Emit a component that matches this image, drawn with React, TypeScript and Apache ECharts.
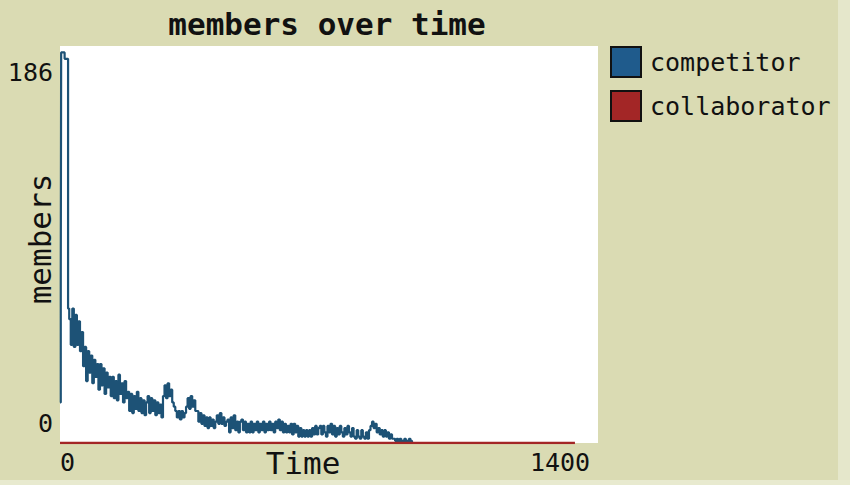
import React, { useEffect, useRef } from "react";
import * as echarts from "echarts";

const TITLE = "members over time";
const X_NAME = "Time";
const Y_NAME = "members";
const SERIES_NAMES = ["competitor", "collaborator"];
const X_RANGE = [0, 1400];
const Y_RANGE = [0, 186];

// [tick, members]
const COMPETITOR: [number, number][] = [
  [0, 19], [2, 80], [3, 183], [12, 180], [21, 63],
  [24, 58], [28, 46], [32, 63], [36, 45], [40, 60], [44, 46], [48, 57], [52, 43], [56, 52],
  [60, 36], [64, 45], [68, 29], [72, 43], [76, 33], [80, 41], [84, 28], [88, 39], [92, 31], [96, 37],
  [100, 25], [104, 37], [108, 27], [112, 35], [116, 23], [120, 33], [124, 26], [128, 31], [132, 22],
  [136, 31], [140, 21], [144, 29], [148, 20], [152, 32], [156, 23], [160, 28], [164, 19], [168, 29], [172, 21],
  [176, 24], [180, 15], [184, 23], [188, 14], [192, 22], [196, 16], [200, 24], [204, 15], [208, 21], [212, 14], [216, 20], [220, 13], [224, 19],
  [228, 22], [232, 14], [236, 21], [240, 15], [244, 20], [248, 13], [252, 19], [256, 14], [260, 18], [264, 12],
  [268, 22], [272, 27], [276, 21], [280, 28], [284, 22], [288, 25], [292, 19], [296, 17],
  [300, 15], [304, 12], [308, 15], [312, 11], [316, 15], [320, 12], [324, 14], [328, 17],
  [332, 21], [336, 16], [340, 22], [344, 17], [348, 20], [352, 15],
  [356, 15], [360, 10], [364, 14], [368, 9], [372, 13], [376, 8], [380, 12], [384, 7], [388, 12], [392, 8], [396, 11], [400, 7], [404, 10],
  [408, 13], [412, 9], [416, 14], [420, 9], [424, 12], [428, 8], [432, 10],
  [436, 11], [440, 5], [444, 12], [448, 7], [452, 13], [456, 6], [460, 10],
  [464, 5], [468, 10], [472, 11], [476, 6], [480, 10], [484, 5], [488, 9], [492, 5],
  [496, 10], [500, 5], [504, 9], [508, 6], [512, 10], [516, 5], [520, 9], [524, 6], [528, 10], [532, 5], [536, 9], [540, 6],
  [544, 10], [548, 6], [552, 9], [556, 5], [560, 10], [564, 7], [568, 11], [572, 6], [576, 10], [580, 5], [584, 9], [588, 5], [592, 8], [596, 5],
  [600, 9], [604, 4], [608, 9], [612, 5], [616, 8], [620, 3], [624, 7], [628, 3], [632, 6], [636, 3], [640, 6], [644, 3], [648, 6],
  [652, 3], [656, 7], [660, 4], [664, 8], [668, 4], [672, 7], [676, 8], [680, 4], [684, 8], [688, 5], [692, 3], [696, 8],
  [700, 5], [704, 9], [708, 4], [712, 8], [716, 3], [720, 7], [724, 4], [728, 8], [732, 5], [736, 3], [740, 7], [744, 4],
  [748, 8], [752, 5], [756, 3], [760, 7], [764, 3], [768, 2], [772, 6], [776, 3], [780, 2], [784, 6], [788, 3], [792, 2],
  [796, 5], [800, 2], [804, 6],
  [808, 8], [812, 10], [816, 7], [820, 9], [824, 5], [828, 7], [832, 4], [836, 6],
  [840, 3], [844, 6], [848, 3], [852, 5], [856, 2], [860, 4], [864, 2],
  [868, 2], [872, 1], [876, 2], [880, 1], [884, 2], [888, 1], [892, 1], [896, 2], [900, 1], [904, 1], [908, 2], [912, 1], [916, 0], [920, 0],
];

const COLLABORATOR: [number, number][] = [
  [0, 0],
  [1340, 0],
];

const BG = "#dadbb3";
const BLUE_LINE = "#1d5276";
const BLUE_KEY = "#1f5b8c";
const RED = "#a32626";
const FONT = "DejaVu Sans Mono";

export default function App() {
  const ref = useRef<HTMLDivElement>(null);

  useEffect(() => {
    if (!ref.current) return;
    const chart = echarts.init(ref.current, null, { renderer: "svg" });
    chart.setOption({
      animation: false,
      backgroundColor: BG,
      grid: {
        left: 60,
        top: 46,
        right: 252,
        bottom: 42,
        show: true,
        backgroundColor: "#ffffff",
        borderWidth: 0,
      },
      legend: {
        orient: "vertical",
        left: 610,
        top: 46,
        padding: 0,
        itemWidth: 30,
        itemHeight: 30,
        itemGap: 12,
        icon: "rect",
        selectedMode: false,
        textStyle: { fontFamily: FONT, fontSize: 25, color: "#111", padding: [0, 0, 0, 4] },
        data: [
          { name: SERIES_NAMES[0], itemStyle: { color: BLUE_KEY, borderColor: "#111", borderWidth: 2 } },
          { name: SERIES_NAMES[1], itemStyle: { color: RED, borderColor: "#111", borderWidth: 2 } },
        ],
      },
      xAxis: {
        type: "value",
        min: X_RANGE[0],
        max: X_RANGE[1],
        interval: X_RANGE[1],
        axisLine: { show: false },
        axisTick: { show: false },
        splitLine: { show: false },
        axisLabel: {
          margin: 7,
          fontFamily: FONT,
          fontSize: 25,
          color: "#111",
          formatter: (v: number) => (v === X_RANGE[0] ? `{l|${v}}` : `{r|${v}}`),
          rich: {
            l: { fontFamily: FONT, fontSize: 25, color: "#111", padding: [0, 0, 0, 15] },
            r: { fontFamily: FONT, fontSize: 25, color: "#111", padding: [0, 76, 0, 0] },
          },
        },
      },
      yAxis: {
        type: "value",
        min: Y_RANGE[0],
        max: Y_RANGE[1],
        interval: Y_RANGE[1],
        axisLine: { show: false },
        axisTick: { show: false },
        splitLine: { show: false },
        axisLabel: {
          margin: 7,
          fontFamily: FONT,
          fontSize: 25,
          color: "#111",
          formatter: (v: number) => (v === Y_RANGE[1] ? `{t|${v}}` : `{b|${v}}`),
          rich: {
            t: { fontFamily: FONT, fontSize: 25, color: "#111", padding: [52, 0, 0, 0] },
            b: { fontFamily: FONT, fontSize: 25, color: "#111", padding: [0, 0, 40, 0] },
          },
        },
      },
      graphic: [
        { type: "rect", shape: { x: 838, y: 0, width: 12, height: 485 }, style: { fill: "#e5e7cb" }, silent: true },
        { type: "rect", shape: { x: 0, y: 480, width: 850, height: 5 }, style: { fill: "#e8eacf" }, silent: true },
        {
          type: "text",
          x: 327,
          y: 24,
          style: {
            text: TITLE,
            fontFamily: FONT,
            fontWeight: "bold",
            fontSize: 31,
            fill: "#111",
            align: "center",
            verticalAlign: "middle",
          },
        },
        {
          type: "text",
          x: 40,
          y: 239,
          rotation: Math.PI / 2,
          style: {
            text: Y_NAME,
            fontFamily: FONT,
            fontSize: 31,
            fill: "#111",
            align: "center",
            verticalAlign: "middle",
          },
        },
        {
          type: "text",
          x: 303,
          y: 463,
          style: {
            text: X_NAME,
            fontFamily: FONT,
            fontSize: 31,
            fill: "#111",
            align: "center",
            verticalAlign: "middle",
          },
        },
      ],
      series: [
        {
          name: SERIES_NAMES[0],
          type: "line",
          step: "end",
          data: COMPETITOR,
          showSymbol: false,
          symbol: "none",
          lineStyle: { color: BLUE_LINE, width: 2.2 },
          itemStyle: { color: BLUE_KEY },
          z: 2,
        },
        {
          name: SERIES_NAMES[1],
          type: "line",
          data: COLLABORATOR,
          showSymbol: false,
          symbol: "none",
          lineStyle: { color: RED, width: 2.5 },
          itemStyle: { color: RED },
          z: 3,
        },
      ],
    });
    return () => chart.dispose();
  }, []);

  return (
    <div
      ref={ref}
      style={{ position: "fixed", left: 0, top: 0, width: 850, height: 485 }}
    />
  );
}
